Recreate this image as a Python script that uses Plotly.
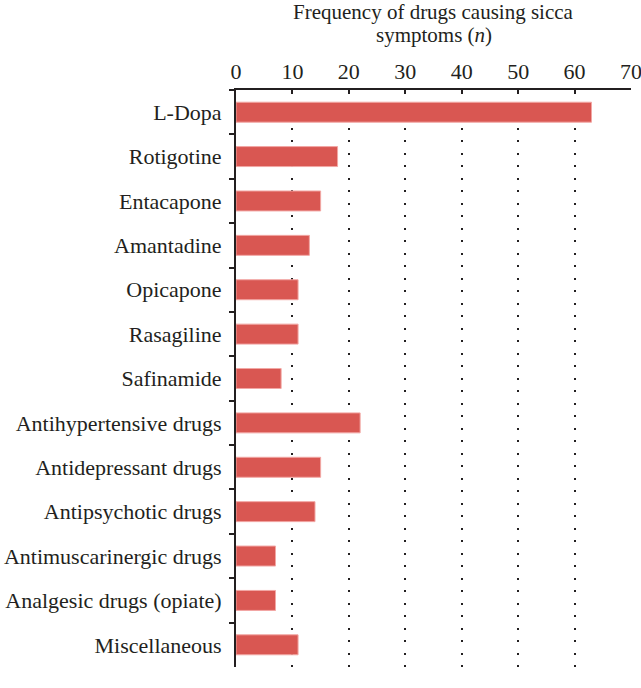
import plotly.graph_objects as go

categories = ["L-Dopa", "Rotigotine", "Entacapone", "Amantadine", "Opicapone",
              "Rasagiline", "Safinamide", "Antihypertensive drugs", "Antidepressant drugs",
              "Antipsychotic drugs", "Antimuscarinergic drugs", "Analgesic drugs (opiate)",
              "Miscellaneous"]
values = [63, 18, 15, 13, 11, 11, 8, 22, 15, 14, 7, 7, 11]
x_ticks = [0, 10, 20, 30, 40, 50, 60, 70]
title_lines = ["Frequency of drugs causing sicca", "symptoms (<i>n</i>)"]

font_family = "Liberation Serif, DejaVu Serif, serif"
ink = "#231f20"

fig = go.Figure(go.Bar(
    x=values, y=categories, orientation="h",
    marker=dict(color="#d95752", line=dict(color="#f2a7a4", width=1)),
    width=0.45,
))

fig.update_layout(
    width=641, height=688,
    margin=dict(l=236, r=10, t=90, b=21),
    paper_bgcolor="white", plot_bgcolor="white",
    font=dict(family=font_family, size=22, color=ink),
    showlegend=False,
    xaxis=dict(
        side="top", range=[0, 70], tickvals=x_ticks, automargin=False,
        ticklabeloverflow="allow",
        showline=True, linecolor=ink, linewidth=2,
        ticks="inside", ticklen=4, tickwidth=1.5, tickcolor=ink,
        showgrid=True, gridcolor=ink, griddash="2px,10.5px", gridwidth=1.5,
        zeroline=False,
        tickfont=dict(size=22),
    ),
    yaxis=dict(
        autorange="reversed", type="category", automargin=False,
        showline=True, linecolor=ink, linewidth=2,
        ticks="outside", ticklen=5, tickwidth=2, tickcolor=ink,
        tickson="boundaries", showgrid=False,
        tickfont=dict(size=22),
        ticklabelstandoff=8,
    ),
)

for line, shift in zip(title_lines, [78, 55]):
    fig.add_annotation(text=line, xref="paper", yref="paper", x=0.5, y=1,
                       xanchor="center", yanchor="middle", yshift=shift,
                       showarrow=False, font=dict(size=21, color=ink))

fig.write_html("out.html", config={"displayModeBar": False},
               post_script="document.body.style.margin='0';")
